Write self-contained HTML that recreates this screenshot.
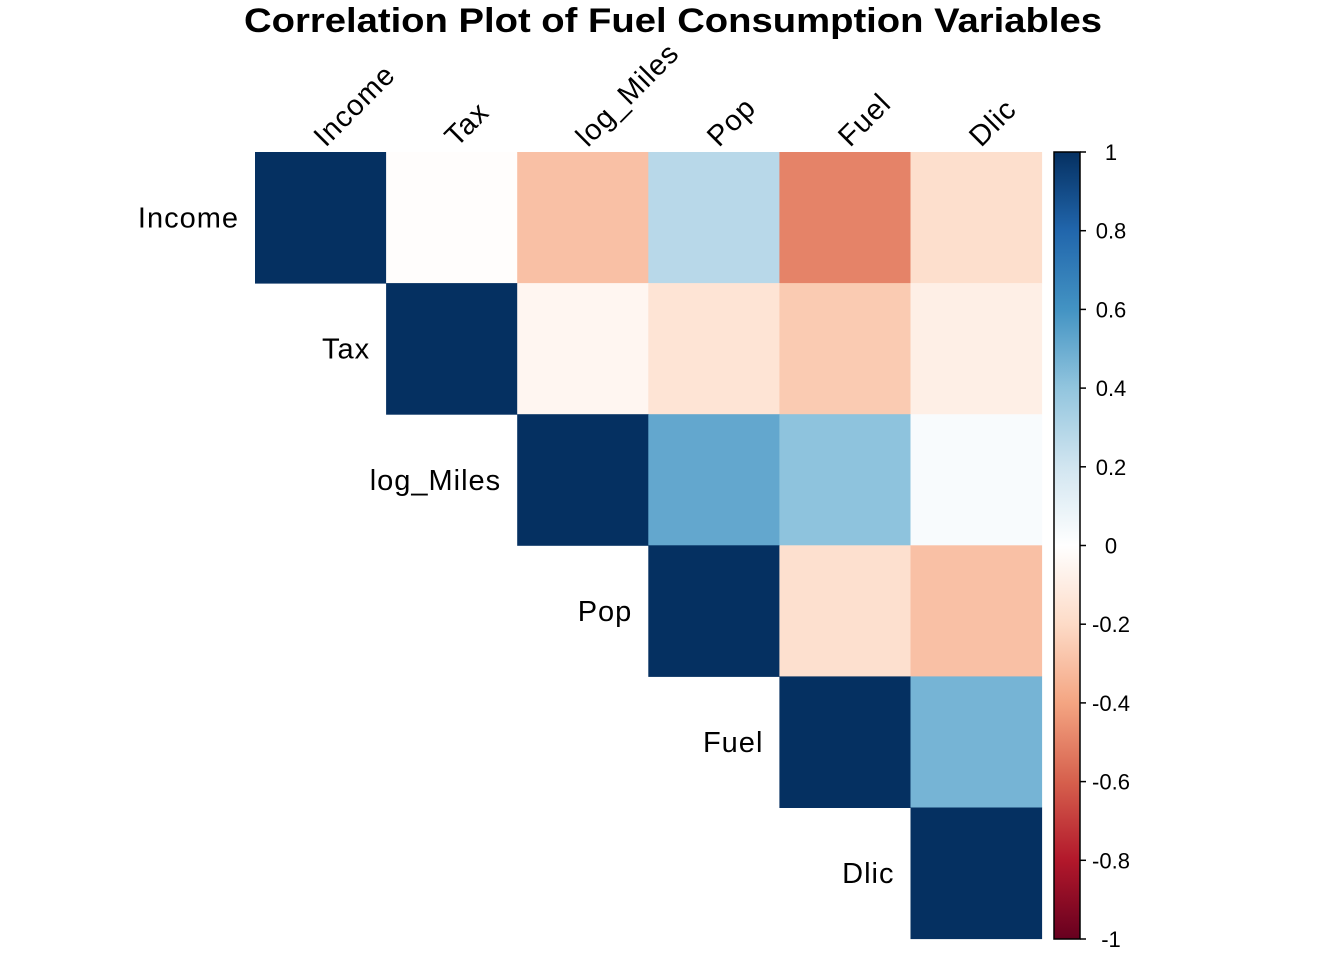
<!DOCTYPE html>
<html><head><meta charset="utf-8">
<style>body{margin:0;background:#fff}svg{display:block;font-family:"Liberation Sans",Arial,sans-serif}</style></head>
<body>
<svg id="chart" width="1344" height="960">
<text x="244" y="32" font-size="34" font-weight="bold" textLength="858" lengthAdjust="spacingAndGlyphs">Correlation Plot of Fuel Consumption Variables</text>
<defs><linearGradient id="cb" x1="0" y1="1" x2="0" y2="0">
<stop offset="0" stop-color="#67001F"/><stop offset="0.1" stop-color="#B2182B"/><stop offset="0.2" stop-color="#D6604D"/><stop offset="0.3" stop-color="#F4A582"/><stop offset="0.4" stop-color="#FDDBC7"/><stop offset="0.5" stop-color="#FFFFFF"/><stop offset="0.6" stop-color="#D1E5F0"/><stop offset="0.7" stop-color="#92C5DE"/><stop offset="0.8" stop-color="#4393C3"/><stop offset="0.9" stop-color="#2166AC"/><stop offset="1" stop-color="#053061"/></linearGradient></defs>
<g id="cells"></g><g id="labels"></g>
<rect x="1054" y="152" width="26" height="787" fill="url(#cb)" stroke="#000" stroke-width="1.5"/>
<g id="cbticks"></g>
</svg>
<script>
const vars = ["Income","Tax","log_Miles","Pop","Fuel","Dlic"];
const corrRow0 = [1, -0.01, -0.3, 0.28, -0.5, -0.18];
const corrRow1 = [-0.01, 1, -0.05, -0.15, -0.26, -0.09];
const corrRow2 = [-0.3, -0.05, 1, 0.52, 0.41, 0.03];
const corrRow3 = [0.28, -0.15, 0.52, 1, -0.17, -0.3];
const corrRow4 = [-0.5, -0.26, 0.41, -0.17, 1, 0.47];
const corrRow5 = [-0.18, -0.09, 0.03, -0.3, 0.47, 1];
const corr = [corrRow0,corrRow1,corrRow2,corrRow3,corrRow4,corrRow5];
const legendTicks = [1,0.8,0.6,0.4,0.2,0,-0.2,-0.4,-0.6,-0.8,-1];
const legendLabels = ["1","0.8","0.6","0.4","0.2","0","-0.2","-0.4","-0.6","-0.8","-1"];

const NS="http://www.w3.org/2000/svg";
const x0=255,y0=152,cs=131.1;
const pal=["#67001F","#B2182B","#D6604D","#F4A582","#FDDBC7","#FFFFFF","#D1E5F0","#92C5DE","#4393C3","#2166AC","#053061"];
function hex(h){return [1,3,5].map(i=>parseInt(h.substr(i,2),16));}
function color(v){let t=(v+1)/2*10;let i=Math.min(9,Math.floor(t)),f=t-i;const a=hex(pal[i]),b=hex(pal[i+1]);return "rgb("+a.map((c,k)=>Math.round(c+(b[k]-c)*f)).join(",")+")";}
const xs=j=>x0+j*cs, ys=i=>y0+i*cs;
const cells=document.getElementById("cells"),labels=document.getElementById("labels");
for(let i=0;i<vars.length;i++){for(let j=i;j<vars.length;j++){
 const r=document.createElementNS(NS,"rect");
 r.setAttribute("x",xs(j));r.setAttribute("y",ys(i));r.setAttribute("width",cs+0.5);r.setAttribute("height",cs+0.5);
 r.setAttribute("fill",color(corr[i][j]));
 
 
 cells.appendChild(r);}}
vars.forEach((v,i)=>{
 const t=document.createElementNS(NS,"text");
 t.setAttribute("x",xs(i)-16);t.setAttribute("y",ys(i)+cs/2+10);t.setAttribute("text-anchor","end");t.setAttribute("font-size","29");
 t.setAttribute("style","letter-spacing:1px");
 t.textContent=v;
 
 
 labels.appendChild(t);
 const c=document.createElementNS(NS,"text");
 const cx=xs(i)+cs/2+5, cy=y0-4;
 c.setAttribute("x",cx);c.setAttribute("y",cy);c.setAttribute("font-size","29");
 c.setAttribute("style","letter-spacing:1px");
 c.setAttribute("transform","rotate(-45 "+cx+" "+cy+")");
 c.textContent=v;
 
 
 labels.appendChild(c);
});
const cb=document.getElementById("cbticks");
legendTicks.forEach((v,k)=>{
 const y=152+(1-v)/2*787;
 const l=document.createElementNS(NS,"line");
 l.setAttribute("x1",1080);l.setAttribute("x2",1086);l.setAttribute("y1",y);l.setAttribute("y2",y);l.setAttribute("stroke","#000");l.setAttribute("stroke-width","1.5");
 
 
 cb.appendChild(l);
 const t=document.createElementNS(NS,"text");
 t.setAttribute("x",1111);t.setAttribute("y",y+8);t.setAttribute("text-anchor","middle");t.setAttribute("font-size","22");
 t.textContent=legendLabels[k];
 
 
 cb.appendChild(t);
});
</script>
</body></html>
